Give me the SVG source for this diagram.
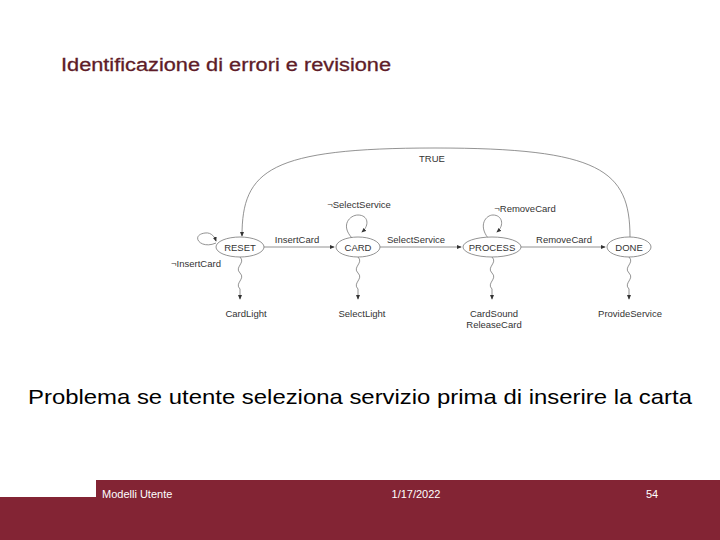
<svg xmlns="http://www.w3.org/2000/svg" width="720" height="540" viewBox="0 0 720 540">
<style>
text{font-family:"Liberation Sans",Arial,sans-serif}
.n{fill:#fff;stroke:#777;stroke-width:0.8}
.l{font-size:9.5px;fill:#333}
.e{fill:none;stroke:#777;stroke-width:0.8}
</style>
<defs><marker id="a" markerWidth="6" markerHeight="6" refX="5" refY="3" orient="auto"><path d="M0,0.5L6,3L0,5.5z" fill="#333"/></marker></defs>
<rect width="720" height="540" fill="#fff"/>
<text x="61" y="71" font-size="18" fill="#5e1c28" stroke="#5e1c28" stroke-width="0.3" textLength="330" lengthAdjust="spacingAndGlyphs">Identificazione di errori e revisione</text>
<g id="edges">
<path class="e" d="M630,237 C630,170 600,148 435,148 C270,148 242,170 242,236" marker-end="url(#a)"/>
<path class="e" d="M264,247 H334" marker-end="url(#a)"/>
<path class="e" d="M380,247 H461" marker-end="url(#a)"/>
<path class="e" d="M521,247 H605" marker-end="url(#a)"/>
<path class="e" d="M216,243 C200,250 190,235 205,233 C212,232 215,238 216,241" marker-end="url(#a)"/>
<path class="e" d="M352,238 C340,225 350,215 358,215 C368,215 370,225 362,232" marker-end="url(#a)"/>
<path class="e" d="M488,238 C478,225 486,215 493,215 C502,215 505,225 497,232" marker-end="url(#a)"/>
<path class="e" d="M240,257 c6,6 -6,10 0,16 c6,6 -6,10 0,16 l0,10" marker-end="url(#a)"/>
<path class="e" d="M358,257 c6,6 -6,10 0,16 c6,6 -6,10 0,16 l0,10" marker-end="url(#a)"/>
<path class="e" d="M492,257 c6,6 -6,10 0,16 c6,6 -6,10 0,16 l0,10" marker-end="url(#a)"/>
<path class="e" d="M629,257 c6,6 -6,10 0,16 c6,6 -6,10 0,16 l0,10" marker-end="url(#a)"/>
<text class="l" x="432" y="162" text-anchor="middle">TRUE</text>
<text class="l" x="297" y="243" text-anchor="middle">InsertCard</text>
<text class="l" x="416" y="243" text-anchor="middle">SelectService</text>
<text class="l" x="564" y="243" text-anchor="middle">RemoveCard</text>
<text class="l" x="196" y="267" text-anchor="middle">¬InsertCard</text>
<text class="l" x="359" y="208" text-anchor="middle">¬SelectService</text>
<text class="l" x="525" y="212" text-anchor="middle">¬RemoveCard</text>
</g>
<g id="reset"><ellipse class="n" cx="240" cy="247" rx="24" ry="10"/><text class="l" x="240" y="251" text-anchor="middle">RESET</text></g>
<g id="card"><ellipse class="n" cx="358" cy="247" rx="22" ry="10"/><text class="l" x="358" y="251" text-anchor="middle">CARD</text></g>
<g id="process"><ellipse class="n" cx="492" cy="247" rx="29" ry="10"/><text class="l" x="492" y="251" text-anchor="middle">PROCESS</text></g>
<g id="done"><ellipse class="n" cx="629" cy="247" rx="22" ry="10"/><text class="l" x="629" y="251" text-anchor="middle">DONE</text></g>
<g id="outs">
<text class="l" x="246" y="317" text-anchor="middle">CardLight</text>
<text class="l" x="362" y="317" text-anchor="middle">SelectLight</text>
<text class="l" x="494" y="317" text-anchor="middle">CardSound</text>
<text class="l" x="494" y="328" text-anchor="middle">ReleaseCard</text>
<text class="l" x="630" y="317" text-anchor="middle">ProvideService</text>
</g>
<text x="28" y="404" font-size="21" fill="#000" textLength="664" lengthAdjust="spacingAndGlyphs">Problema se utente seleziona servizio prima di inserire la carta</text>
<path d="M96,480H720V540H0V497H96z" fill="#832434"/>
<text x="102" y="498" font-size="11" fill="#fff">Modelli Utente</text>
<text x="416" y="498" font-size="11" fill="#fff" text-anchor="middle">1/17/2022</text>
<text x="652" y="498" font-size="11" fill="#fff" text-anchor="middle">54</text>
</svg>
